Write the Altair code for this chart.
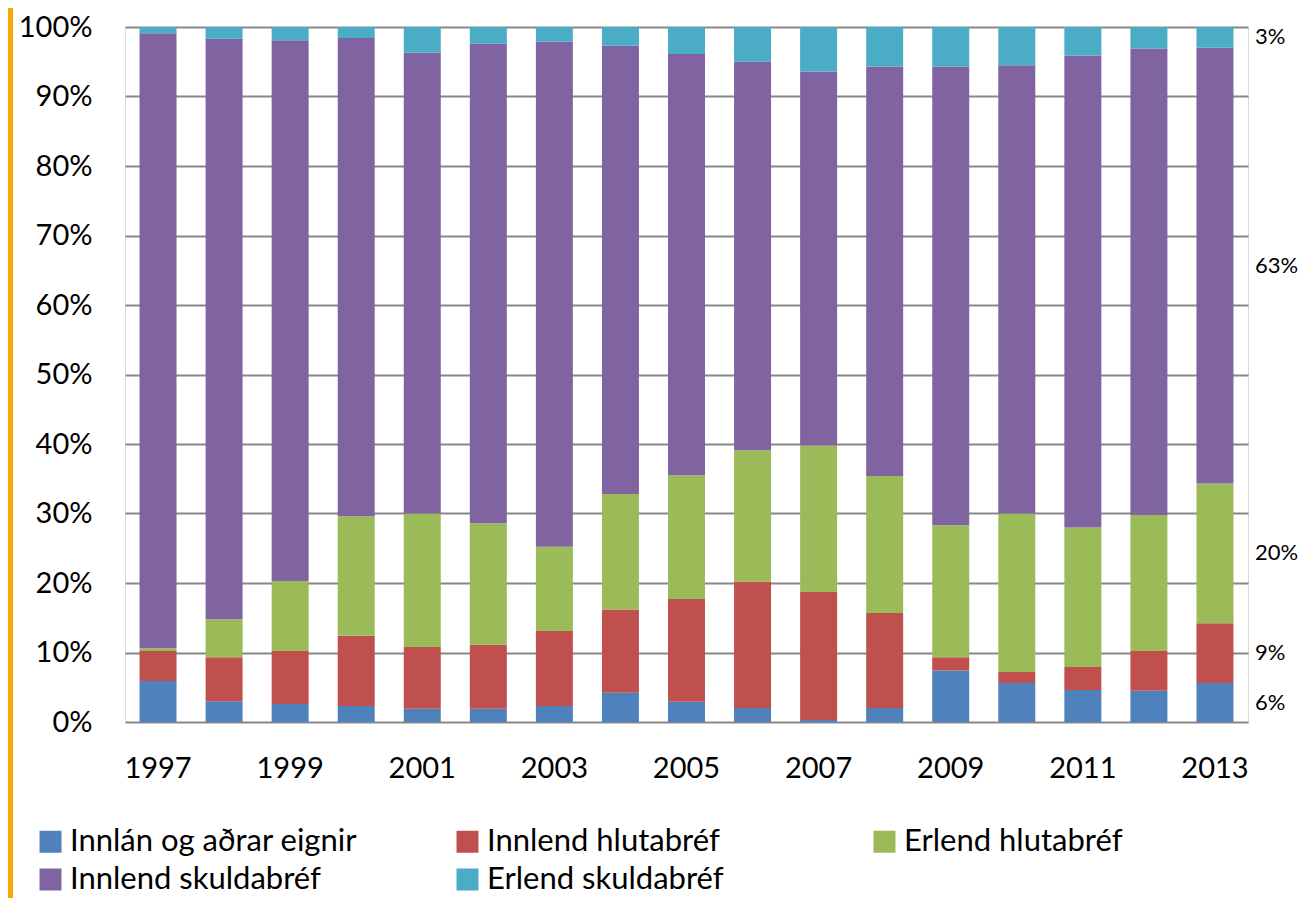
import altair as alt
import pandas as pd

years = list(range(1997, 2014))
series = ["Innlán og aðrar eignir", "Innlend hlutabréf", "Erlend hlutabréf",
          "Innlend skuldabréf", "Erlend skuldabréf"]
colors = ["#4F81BD", "#C0504D", "#9BBB59", "#8064A2", "#4BACC6"]

innlan = [5.9, 3.0, 2.6, 2.3, 1.9, 1.9, 2.3, 4.2, 2.9, 2.0, 0.3, 2.0, 7.4, 5.6, 4.6, 4.5, 5.6]
innlend_hlutabref = [4.3, 6.3, 7.6, 10.1, 8.9, 9.2, 10.8, 12.0, 14.8, 18.2, 18.4, 13.7, 1.9, 1.6, 3.3, 5.7, 8.6]
erlend_hlutabref = [0.4, 5.5, 10.1, 17.2, 19.2, 17.5, 12.1, 16.6, 17.8, 18.9, 21.1, 19.7, 19.0, 22.8, 20.1, 19.6, 20.1]
innlend_skuldabref = [88.5, 83.5, 77.8, 68.8, 66.3, 69.0, 72.7, 64.5, 60.6, 55.9, 53.8, 58.9, 66.0, 64.5, 67.9, 67.1, 62.7]
erlend_skuldabref = [0.9, 1.7, 1.9, 1.6, 3.7, 2.4, 2.1, 2.7, 3.9, 5.0, 6.4, 5.7, 5.7, 5.5, 4.1, 3.1, 3.0]

end_labels = ["6%", "9%", "20%", "63%", "3%"]
x_tick_years = [y for y in years if y % 2 == 1]

values = [innlan, innlend_hlutabref, erlend_hlutabref, innlend_skuldabref, erlend_skuldabref]

rows = []
for i, yr in enumerate(years):
    for k, (name, vals) in enumerate(zip(series, values)):
        rows.append({"year": yr, "series": name, "order": k, "value": vals[i]})
df = pd.DataFrame(rows)

# end labels at mid-points of the last year's stacked segments
last = [v[-1] for v in values]
total = sum(last)
mids = []
cum = 0.0
for v in last:
    mids.append((cum + v / 2) / total)
    cum += v
lab_df = pd.DataFrame({"year": [years[-1]] * len(series), "label": end_labels, "mid": mids})

W, H = 1123, 695
FONT = "Lato"

x_enc = alt.X(
    "year:O",
    scale=alt.Scale(paddingInner=0.44, paddingOuter=0.22),
    axis=alt.Axis(values=x_tick_years, title=None, labelAngle=0, labelFont=FONT,
                  labelFontSize=29, labelColor="#000000", labelPadding=32,
                  ticks=False, tickSize=0, domain=False, grid=False),
)

bars = alt.Chart(df).mark_bar().encode(
    x=x_enc,
    y=alt.Y("value:Q", stack="normalize",
            scale=alt.Scale(domain=[0, 1], nice=False),
            axis=alt.Axis(format=".0%", values=[i / 10 for i in range(11)], title=None,
                          grid=True, gridColor="#888888", gridWidth=2,
                          domain=False, ticks=False, tickSize=0,
                          labelFont=FONT, labelFontSize=29, labelColor="#000000",
                          labelPadding=33)),
    color=alt.Color("series:N", scale=alt.Scale(domain=series, range=colors),
                    legend=alt.Legend(title=None, orient="none", legendX=-90, legendY=799,
                                      columns=3, direction="horizontal",
                                      symbolType="square", symbolSize=484,
                                      symbolStrokeWidth=0, symbolOpacity=1,
                                      labelFont=FONT, labelFontSize=31, labelColor="#000000",
                                      labelLimit=700, labelOffset=4,
                                      columnPadding=94, rowPadding=6,
                                      gridAlign="all", padding=0)),
    order=alt.Order("order:Q", sort="ascending"),
)

labels = alt.Chart(lab_df).mark_text(align="left", baseline="middle", dx=40,
                                     font=FONT, fontSize=22, color="#000000").encode(
    x=alt.X("year:O"),
    y=alt.Y("mid:Q"),
    text="label:N",
)

edge = alt.Chart(pd.DataFrame({"a": [0]})).mark_rule(color="#F5A800", strokeWidth=5).encode(
    x=alt.value(-114.5), y=alt.value(-19), y2=alt.value(H + 180),
)

chart = alt.layer(bars, labels, edge).properties(
    width=W, height=H,
    autosize=alt.AutoSizeParams(type="none"),
    padding={"left": 117, "top": 19, "right": 54, "bottom": 176},
).configure_view(stroke=None).configure(font=FONT)

chart.save("out.html", embed_options={"renderer": "svg", "actions": False})
